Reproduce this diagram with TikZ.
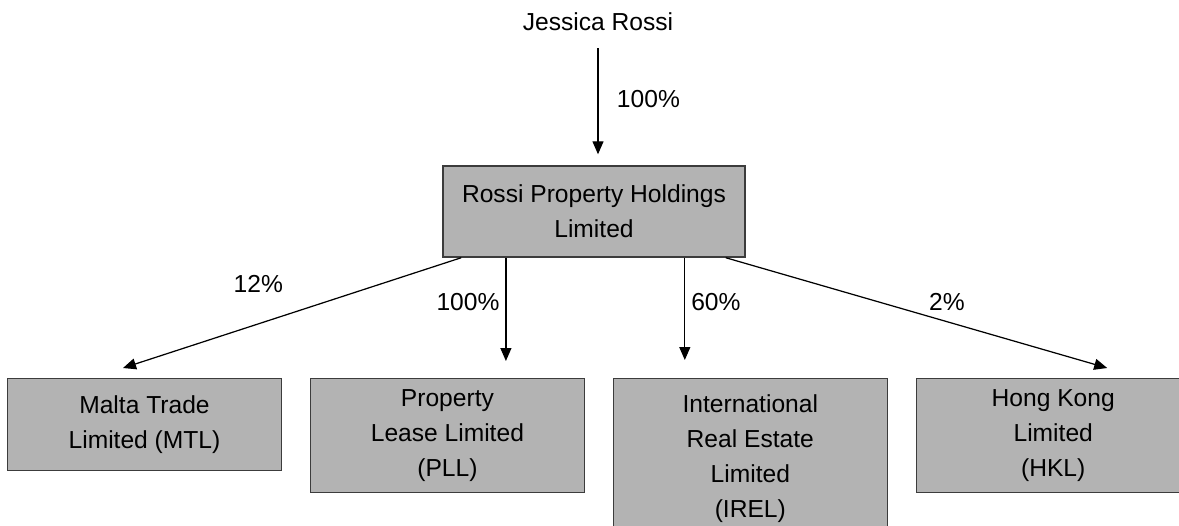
\documentclass[tikz,border=0pt]{standalone}
\usepackage{fontspec}
\setmainfont{Liberation Sans}
\usetikzlibrary{arrows.meta,calc,positioning}
\definecolor{BoxGrey}{HTML}{B3B3B3}
\definecolor{EdgeGrey}{HTML}{3C3C3C}

\begin{document}
\begin{tikzpicture}[node distance=0.55cm,
    font=\fontsize{14}{19.9}\selectfont,
    entity/.style={draw=EdgeGrey,line width=0.8pt,fill=BoxGrey,align=center,
                   minimum width=5.48cm,minimum height=2.28cm},
    arr/.style={-{Triangle[length=2.6mm,width=2.2mm]},line width=0.7pt}]
    \useasboundingbox (0,0) rectangle (23.58,-10.5);
    \node (jessica) at (11.96,-0.44) {Jessica Rossi};
    \node[entity,minimum width=6.04cm,minimum height=1.82cm] (rph) at (11.88,-4.23) {Rossi Property Holdings\\Limited};
    \node[entity,minimum height=1.84cm,anchor=north] (mtl) at (2.89,-7.56) {Malta Trade\\Limited (MTL)};
    \node[entity,right=of mtl.north east,anchor=north west] (pll) {Property\\Lease Limited\\(PLL)};
    \node[entity,minimum height=3.18cm,right=of pll.north east,anchor=north west] (irel) {International\\Real Estate\\Limited\\(IREL)};
    \node[entity,right=of irel.north east,anchor=north west] (hkl) {Hong Kong\\Limited\\(HKL)};
    \coordinate (pll-in) at ($(pll.north)+(1.17,0.34)$);
    \coordinate (irel-in) at ($(irel.north)+(-1.31,0.36)$);
    % ownership
    \draw[arr,shorten <=0.22cm,shorten >=0.22cm] (jessica) -- (jessica |- rph.north)
        node[pos=0.48,right=0.25cm] (own-rph) {100\%};
    \draw[arr] ($(rph.south west)+(0.38,0)$) -- ($(mtl.north)+(-0.43,0.2)$)
        node[pos=0.6,above=0.5cm] (own-mtl) {12\%};
    \draw[arr] (rph.south -| pll-in) -- (pll-in)
        node[pos=0.43,left] (own-pll) {100\%};
    \draw[arr] (rph.south -| irel-in) -- (irel-in)
        node[pos=0.43,right] (own-irel) {60\%};
    \draw[arr] ($(rph.south east)+(-0.4,0)$) -- ($(hkl.north)+(1.08,0.2)$)
        node[pos=0.58,above=0.1cm] (own-hkl) {2\%};
\end{tikzpicture}
\end{document}
